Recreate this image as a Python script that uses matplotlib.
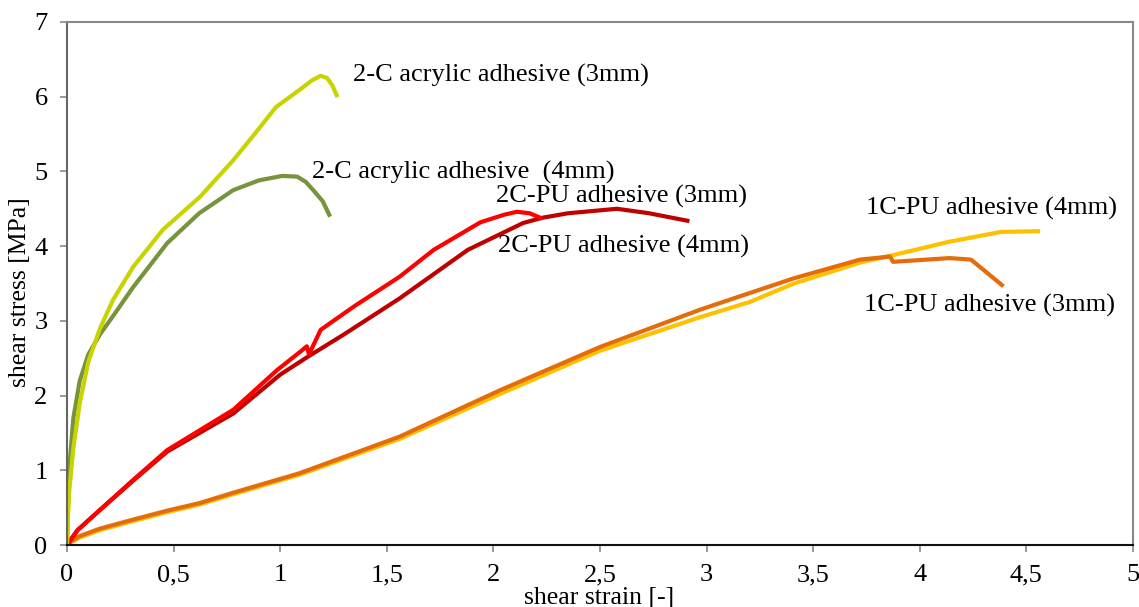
import matplotlib
matplotlib.use("Agg")
import matplotlib.pyplot as plt

plt.rcParams['font.family'] = ['Liberation Serif', 'DejaVu Serif']

# curves: shear strain [-] vs shear stress [MPa]
acr3_x = [0, 0.005, 0.01, 0.03, 0.06, 0.1, 0.155, 0.216, 0.31, 0.45, 0.624, 0.78, 0.88, 0.98, 1.09, 1.15, 1.19, 1.22, 1.245, 1.265]
acr3_y = [0, 0.4, 0.7, 1.3, 1.9, 2.45, 2.9, 3.28, 3.72, 4.22, 4.66, 5.15, 5.5, 5.86, 6.09, 6.22, 6.28, 6.25, 6.15, 6.02]

acr4_x = [0, 0.004, 0.01, 0.03, 0.06, 0.1, 0.155, 0.22, 0.31, 0.47, 0.62, 0.78, 0.9, 1.01, 1.08, 1.12, 1.155, 1.2, 1.23]
acr4_y = [0, 0.4, 1.0, 1.7, 2.2, 2.55, 2.82, 3.08, 3.45, 4.04, 4.44, 4.75, 4.88, 4.94, 4.93, 4.86, 4.75, 4.6, 4.42]

pu2c3_x = [0, 0.02, 0.05, 0.155, 0.31, 0.47, 0.78, 0.985, 1.1, 1.125, 1.135, 1.19, 1.35, 1.56, 1.72, 1.94, 2.05, 2.11, 2.17, 2.22]
pu2c3_y = [0, 0.08, 0.2, 0.47, 0.87, 1.27, 1.81, 2.34, 2.6, 2.66, 2.55, 2.88, 3.2, 3.59, 3.95, 4.32, 4.42, 4.46, 4.44, 4.38]

pu2c4_x = [0, 0.02, 0.05, 0.155, 0.31, 0.47, 0.78, 1.0, 1.13, 1.3, 1.56, 1.88, 2.14, 2.23, 2.35, 2.58, 2.73, 2.91]
pu2c4_y = [0, 0.08, 0.2, 0.47, 0.86, 1.25, 1.76, 2.28, 2.52, 2.82, 3.3, 3.95, 4.31, 4.38, 4.44, 4.5, 4.44, 4.34]

pu1c3_x = [0, 0.02, 0.06, 0.155, 0.31, 0.47, 0.62, 0.78, 1.09, 1.56, 2.03, 2.5, 2.97, 3.2, 3.41, 3.72, 3.86, 3.875, 4.14, 4.24, 4.3, 4.385]
pu1c3_y = [0, 0.05, 0.12, 0.22, 0.34, 0.46, 0.56, 0.7, 0.96, 1.45, 2.07, 2.65, 3.15, 3.37, 3.57, 3.82, 3.86, 3.79, 3.84, 3.82, 3.68, 3.48]

pu1c4_x = [0, 0.02, 0.06, 0.155, 0.31, 0.47, 0.62, 0.78, 1.09, 1.56, 2.03, 2.5, 2.97, 3.2, 3.41, 3.72, 3.875, 4.14, 4.38, 4.555]
pu1c4_y = [0, 0.04, 0.1, 0.2, 0.32, 0.44, 0.54, 0.68, 0.94, 1.42, 2.02, 2.6, 3.05, 3.25, 3.5, 3.78, 3.88, 4.06, 4.19, 4.2]

xticks = [0, 0.5, 1, 1.5, 2, 2.5, 3, 3.5, 4, 4.5, 5]
xtick_labels = ['0', '0,5', '1', '1,5', '2', '2,5', '3', '3,5', '4', '4,5', '5']
yticks = [0, 1, 2, 3, 4, 5, 6, 7]

fig = plt.figure(figsize=(11.39, 6.07), dpi=100)
ax = fig.add_axes([0.0588, 0.1021, 0.9359, 0.8617])

lw = 3
ax.plot(pu1c4_x, pu1c4_y, color='#ffc000', lw=lw)
ax.plot(pu1c3_x, pu1c3_y, color='#e46c0a', lw=lw)
ax.plot(pu2c4_x, pu2c4_y, color='#c00000', lw=lw)
ax.plot(pu2c3_x, pu2c3_y, color='#ff0000', lw=lw)
ax.plot(acr4_x, acr4_y, color='#77933c', lw=lw)
ax.plot(acr3_x, acr3_y, color='#c8d400', lw=lw)

fs = 19
ax.text(1.34, 6.29, '2-C acrylic adhesive (3mm)', fontsize=fs, va='center')
ax.text(1.15, 4.98, '2-C acrylic adhesive  (4mm)', fontsize=fs, va='center')
ax.text(2.01, 4.66, '2C-PU adhesive (3mm)', fontsize=fs, va='center')
ax.text(2.02, 4.0, '2C-PU adhesive (4mm)', fontsize=fs, va='center')
ax.text(3.75, 4.51, '1C-PU adhesive (4mm)', fontsize=fs, va='center')
ax.text(3.74, 3.21, '1C-PU adhesive (3mm)', fontsize=fs, va='center')

ax.set_xlim(0, 5)
ax.set_ylim(0, 7)
ax.set_xticks(xticks)
ax.set_xticklabels(xtick_labels)
ax.set_yticks(yticks)
ax.tick_params(labelsize=19, direction='out', length=5, width=1.2, color='#888888', pad=9)
ax.set_xlabel('shear strain [-]', fontsize=18.5)
ax.set_ylabel('shear stress [MPa]', fontsize=18.5)
ax.xaxis.set_label_coords(0.499, -0.08)
ax.yaxis.set_label_coords(-0.034, 0.484)

ax.spines['bottom'].set_color('#111111')
ax.spines['left'].set_color('#666666')
for s in ['top', 'right']:
    ax.spines[s].set_color('#888888')
for s in ax.spines.values():
    s.set_linewidth(1.5)

fig.savefig('out.png', dpi=100)
